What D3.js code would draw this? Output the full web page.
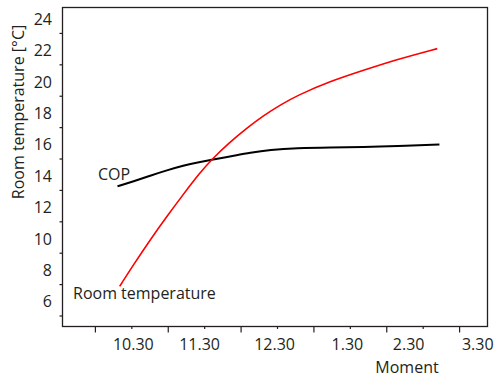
<!DOCTYPE html>
<html lang="en">
<head>
	<meta charset="utf-8">
	<title>Room temperature and COP</title>
	<script src="https://d3js.org/d3.v7.min.js"></script>
	<style type="text/css">
		body { margin: 0; background: #fff; }
		text { font-family: "Open Sans", "Noto Sans", sans-serif; fill: #231f20; }
	</style>
</head>
<body>
	<svg id="chart" width="494" height="378"></svg>

	<script type="text/javascript">
	// data (time in decimal hours)
	var roomTimes = [10.34, 10.53, 10.76, 10.99, 11.21, 11.44, 11.6, 11.85, 12.08, 12.31, 12.54, 12.77, 13.23, 13.69, 14.14, 14.7]
	var roomTemp  = [6.86, 8.24, 9.83, 11.32, 12.7, 14.08, 14.93, 16.03, 16.92, 17.72, 18.4, 19.0, 19.92, 20.62, 21.3, 22.0]

	var copTimes = [10.31, 10.53, 10.76, 10.99, 11.21, 11.44, 11.6, 11.9, 12.13, 12.4, 12.77, 13.23, 13.69, 14.14, 14.73]
	var copValues = [13.23, 13.55, 13.91, 14.25, 14.55, 14.78, 14.92, 15.17, 15.37, 15.55, 15.67, 15.71, 15.72, 15.78, 15.9]

	// axis ticks and labels
	var yLabelValues = [6, 8, 10, 12, 14, 16, 18, 20, 22, 24]
	var yTickValues = [5, 7, 9, 11, 13, 15, 17, 19, 21, 23]
	var xMajorTicks = [10, 11, 12, 13, 14, 15]
	var xMinorTicks = [10.5, 11.5, 12.5, 13.5, 14.5]
	var xLabels = ["10.30", "11.30", "12.30", "1.30", "2.30", "3.30"]
	var xLabelAt = [10.52, 11.43, 12.46, 13.46, 14.3, 15.25]

	var svg = d3.select("#chart")

	var x = d3.scaleLinear().domain([9.555, 15.39]).range([62.5, 487.5])
	var y = d3.scaleLinear().domain([4.3, 24.62]).range([326.5, 7.5])

	// y ticks (odd values, short, outside)
	svg.append("g")
		.attr("transform", "translate(62.5,0)")
		.call(d3.axisLeft(y).tickValues(yTickValues).tickSize(3).tickFormat(""))
		.call(g => g.select(".domain").remove())
		.selectAll("line").attr("stroke", "#231f20").attr("stroke-width", 1.2)

	// y labels (even values)
	var yl = svg.append("g")
		.attr("transform", "translate(62.5,0)")
		.call(d3.axisLeft(y).tickValues(yLabelValues).tickSize(0).tickPadding(10.5))
	yl.select(".domain").remove()
	yl.selectAll("text")
		.attr("y", 2)
		.style("font-size", "16px")
		.style("font-family", "'Open Sans', 'Noto Sans', sans-serif")
		.attr("fill", "#231f20")

	// x major and minor ticks
	svg.append("g")
		.attr("transform", "translate(0,326.5)")
		.call(d3.axisBottom(x).tickValues(xMajorTicks).tickSize(6).tickFormat(""))
		.call(g => g.select(".domain").remove())
		.selectAll("line").attr("stroke", "#231f20").attr("stroke-width", 1.2)
	svg.append("g")
		.attr("transform", "translate(0,326.5)")
		.call(d3.axisBottom(x).tickValues(xMinorTicks).tickSize(2.5).tickFormat(""))
		.call(g => g.select(".domain").remove())
		.selectAll("line").attr("stroke", "#231f20").attr("stroke-width", 1.2)

	// x labels
	var xl = svg.append("g")
		.attr("transform", "translate(0,326.5)")
		.call(d3.axisBottom(x).tickValues(xLabelAt).tickSize(0).tickPadding(12)
			.tickFormat((d, i) => xLabels[i]))
	xl.select(".domain").remove()
	xl.selectAll("text")
		.style("font-size", "16px")
		.style("font-family", "'Open Sans', 'Noto Sans', sans-serif")
		.attr("fill", "#231f20")

	// frame
	svg.append("rect")
		.attr("x", x.range()[0])
		.attr("y", y.range()[1])
		.attr("width", x.range()[1] - x.range()[0])
		.attr("height", y.range()[0] - y.range()[1])
		.attr("fill", "none")
		.attr("stroke", "#231f20")
		.attr("stroke-width", 1.3)

	// lines
	var line = d3.line()
		.x(d => x(d[0]))
		.y(d => y(d[1]))
		.curve(d3.curveBasis)

	svg.append("path")
		.datum(copTimes.map((t, i) => [t, copValues[i]]))
		.attr("d", line)
		.attr("fill", "none")
		.attr("stroke", "#000")
		.attr("stroke-width", 2)

	svg.append("path")
		.datum(roomTimes.map((t, i) => [t, roomTemp[i]]))
		.attr("d", line)
		.attr("fill", "none")
		.attr("stroke", "#ff0000")
		.attr("stroke-width", 1.6)

	// series labels
	svg.append("text")
		.attr("x", 98)
		.attr("y", 180)
		.style("font-size", "16px")
		.text("COP")

	svg.append("text")
		.attr("x", 73)
		.attr("y", 299)
		.style("font-size", "16px")
		.text("Room temperature")

	// axis titles
	svg.append("text")
		.attr("x", 407)
		.attr("y", 373)
		.attr("text-anchor", "middle")
		.style("font-size", "16px")
		.text("Moment")

	svg.append("text")
		.attr("transform", "translate(24,112) rotate(-90)")
		.attr("text-anchor", "middle")
		.style("font-size", "16px")
		.text("Room temperature [°C]")
	</script>
</body>
</html>
